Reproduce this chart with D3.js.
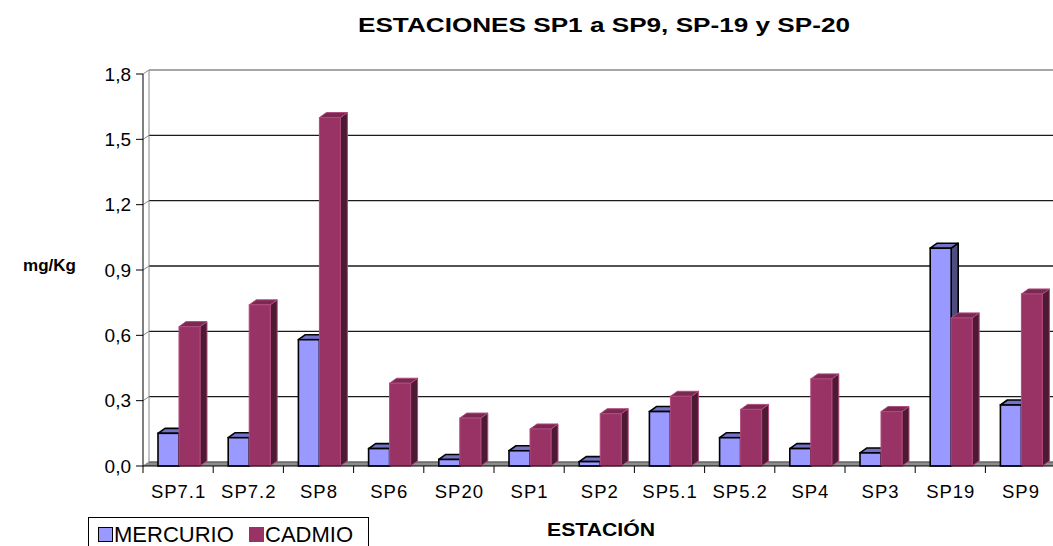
<!DOCTYPE html>
<html>
<head>
<meta charset="utf-8">
<script src="https://cdn.jsdelivr.net/npm/d3@7"></script>
<style>
  body { margin: 0; background: #fff; }
  text { font-family: Arial, "Liberation Sans", sans-serif; fill: #000; }
</style>
</head>
<body>
<div id="chart-area"></div>
<script>
// Data
var estaciones = ["SP7.1", "SP7.2", "SP8", "SP6", "SP20", "SP1", "SP2", "SP5.1", "SP5.2", "SP4", "SP3", "SP19", "SP9"];
var mercurio = [0.15, 0.13, 0.58, 0.08, 0.03, 0.07, 0.02, 0.25, 0.13, 0.08, 0.06, 1.00, 0.28];
var cadmio   = [0.64, 0.74, 1.60, 0.38, 0.22, 0.17, 0.24, 0.32, 0.26, 0.40, 0.25, 0.68, 0.79];
var series = ["MERCURIO", "CADMIO"];
var yTicks = [0, 0.3, 0.6, 0.9, 1.2, 1.5, 1.8];

var W = 1053, H = 546;
var plotLeft = 143, plotBottom = 466, plotTop = 74;
var wallDx = 6, wallDy = 4;   // depth of back wall
var barDx = 7, barDy = 5;     // depth of bars

var colors = {
  MERCURIO: { front: "#9999ff", top: "#7373c6", side: "#4d4d80", stroke: "#000" },
  CADMIO:   { front: "#993366", top: "#7a2952", side: "#4d1a33", stroke: "#b04a7c" }
};

var svg = d3.select("#chart-area")
    .append("svg")
    .attr("width", W)
    .attr("height", H);

// Scales
var x = d3.scaleBand().domain(estaciones).range([plotLeft, plotLeft + estaciones.length * 70.2]);
var xs = d3.scaleBand().domain(series).range([15, 57]);
var y = d3.scaleLinear().domain([0, 1.8]).range([plotBottom, plotTop]);
var fmt = function(d) { return d3.format(".1f")(d).replace(".", ","); };

var plotRight = x.range()[1];

// Floor
svg.append("path")
    .attr("d", "M" + plotLeft + "," + plotBottom + "L" + plotRight + "," + plotBottom +
        "L" + (plotRight + wallDx) + "," + (plotBottom - wallDy) + "L" + (plotLeft + wallDx) + "," + (plotBottom - wallDy) + "Z")
    .attr("fill", "#8c8c8c");

// Gridlines on back wall + side wall
var grid = svg.append("g");
yTicks.forEach(function(t) {
  var yy = y(t) - wallDy;
  grid.append("line")
      .attr("x1", plotLeft + wallDx).attr("x2", plotRight + wallDx)
      .attr("y1", yy).attr("y2", yy)
      .attr("stroke", t === 1.8 ? "#888" : (t === 0 ? "#666" : "#1a1a1a"))
      .attr("stroke-width", 1.3);
  grid.append("line")
      .attr("x1", plotLeft).attr("x2", plotLeft + wallDx)
      .attr("y1", y(t)).attr("y2", yy)
      .attr("stroke", "#888");
});
// back wall left edge
grid.append("line")
    .attr("x1", plotLeft + wallDx).attr("x2", plotLeft + wallDx)
    .attr("y1", y(1.8) - wallDy).attr("y2", plotBottom - wallDy)
    .attr("stroke", "#888");

// Bars
function drawBar(g, x0, w, v, c) {
  var y0 = y(v);
  var h = plotBottom - y0;
  var sw = c.stroke === "#000" ? 1.6 : 1;
  // side
  g.append("path")
      .attr("d", "M" + (x0 + w) + "," + y0 + "l" + barDx + "," + (-barDy) +
          "l0," + h + "l" + (-barDx) + "," + barDy + "Z")
      .attr("fill", c.side).attr("stroke", c.stroke)
      .attr("stroke-width", sw)
      .attr("stroke-linejoin", "round");
  // top
  g.append("path")
      .attr("d", "M" + x0 + "," + y0 + "l" + barDx + "," + (-barDy) +
          "l" + w + ",0l" + (-barDx) + "," + barDy + "Z")
      .attr("fill", c.top).attr("stroke", c.stroke)
      .attr("stroke-width", sw)
      .attr("stroke-linejoin", "round");
  // front
  g.append("rect")
      .attr("x", x0).attr("y", y0)
      .attr("width", w).attr("height", h)
      .attr("fill", c.front).attr("stroke", c.stroke)
      .attr("stroke-width", sw);
}

var bars = svg.append("g");
estaciones.forEach(function(e, i) {
  var g = bars.append("g");
  drawBar(g, x(e) + xs("MERCURIO"), xs.bandwidth(), mercurio[i], colors.MERCURIO);
  drawBar(g, x(e) + xs("CADMIO"), xs.bandwidth(), cadmio[i], colors.CADMIO);
});

// Y axis
var yAxis = svg.append("g");
yAxis.append("line")
    .attr("x1", plotLeft).attr("x2", plotLeft)
    .attr("y1", plotTop).attr("y2", plotBottom)
    .attr("stroke", "#000");
yTicks.forEach(function(t) {
  yAxis.append("line")
      .attr("x1", plotLeft - 7).attr("x2", plotLeft)
      .attr("y1", y(t)).attr("y2", y(t))
      .attr("stroke", "#000");
  yAxis.append("text")
      .attr("x", plotLeft - 12)
      .attr("y", y(t) + 6.5)
      .attr("text-anchor", "end")
      .attr("font-size", "19px")
      .text(fmt(t));
});

// X axis
var xAxis = svg.append("g");
xAxis.append("line")
    .attr("x1", plotLeft).attr("x2", plotRight)
    .attr("y1", plotBottom).attr("y2", plotBottom)
    .attr("stroke", "#000");
estaciones.forEach(function(e) {
  xAxis.append("line")
      .attr("x1", x(e)).attr("x2", x(e))
      .attr("y1", plotBottom).attr("y2", plotBottom + 7)
      .attr("stroke", "#000");
  xAxis.append("text")
      .attr("x", x(e) + x.bandwidth() / 2 + 0.5)
      .attr("y", 498)
      .attr("text-anchor", "middle")
      .attr("font-size", "18.5px")
      .attr("letter-spacing", "1px")
      .text(e);
});

// Title and axis labels
svg.append("text")
    .attr("x", 358).attr("y", 32)
    .attr("font-size", "19.5px")
    .attr("font-weight", "bold")
    .attr("textLength", 492)
    .attr("lengthAdjust", "spacingAndGlyphs")
    .text("ESTACIONES SP1 a SP9, SP-19 y SP-20");

svg.append("text")
    .attr("x", 76).attr("y", 271)
    .attr("text-anchor", "end")
    .attr("font-size", "17px")
    .attr("font-weight", "bold")
    .text("mg/Kg");

svg.append("text")
    .attr("x", 547).attr("y", 536)
    .attr("font-size", "18.5px")
    .attr("font-weight", "bold")
    .attr("textLength", 108)
    .attr("lengthAdjust", "spacingAndGlyphs")
    .text("ESTACIÓN");

// Legend
var legend = svg.append("g");
legend.append("rect")
    .attr("x", 88.5).attr("y", 517.5)
    .attr("width", 280).attr("height", 40)
    .attr("fill", "#fff").attr("stroke", "#000");
var legX = [98, 249];
series.forEach(function(s, i) {
  legend.append("rect")
      .attr("x", legX[i] + 0.5).attr("y", 527.5)
      .attr("width", 14).attr("height", 14)
      .attr("fill", colors[s].front)
      .attr("stroke", s === "MERCURIO" ? "#000" : colors[s].front);
  legend.append("text")
      .attr("x", legX[i] + 16).attr("y", 542)
      .attr("font-size", "22px")
      .text(s);
});
</script>
</body>
</html>
